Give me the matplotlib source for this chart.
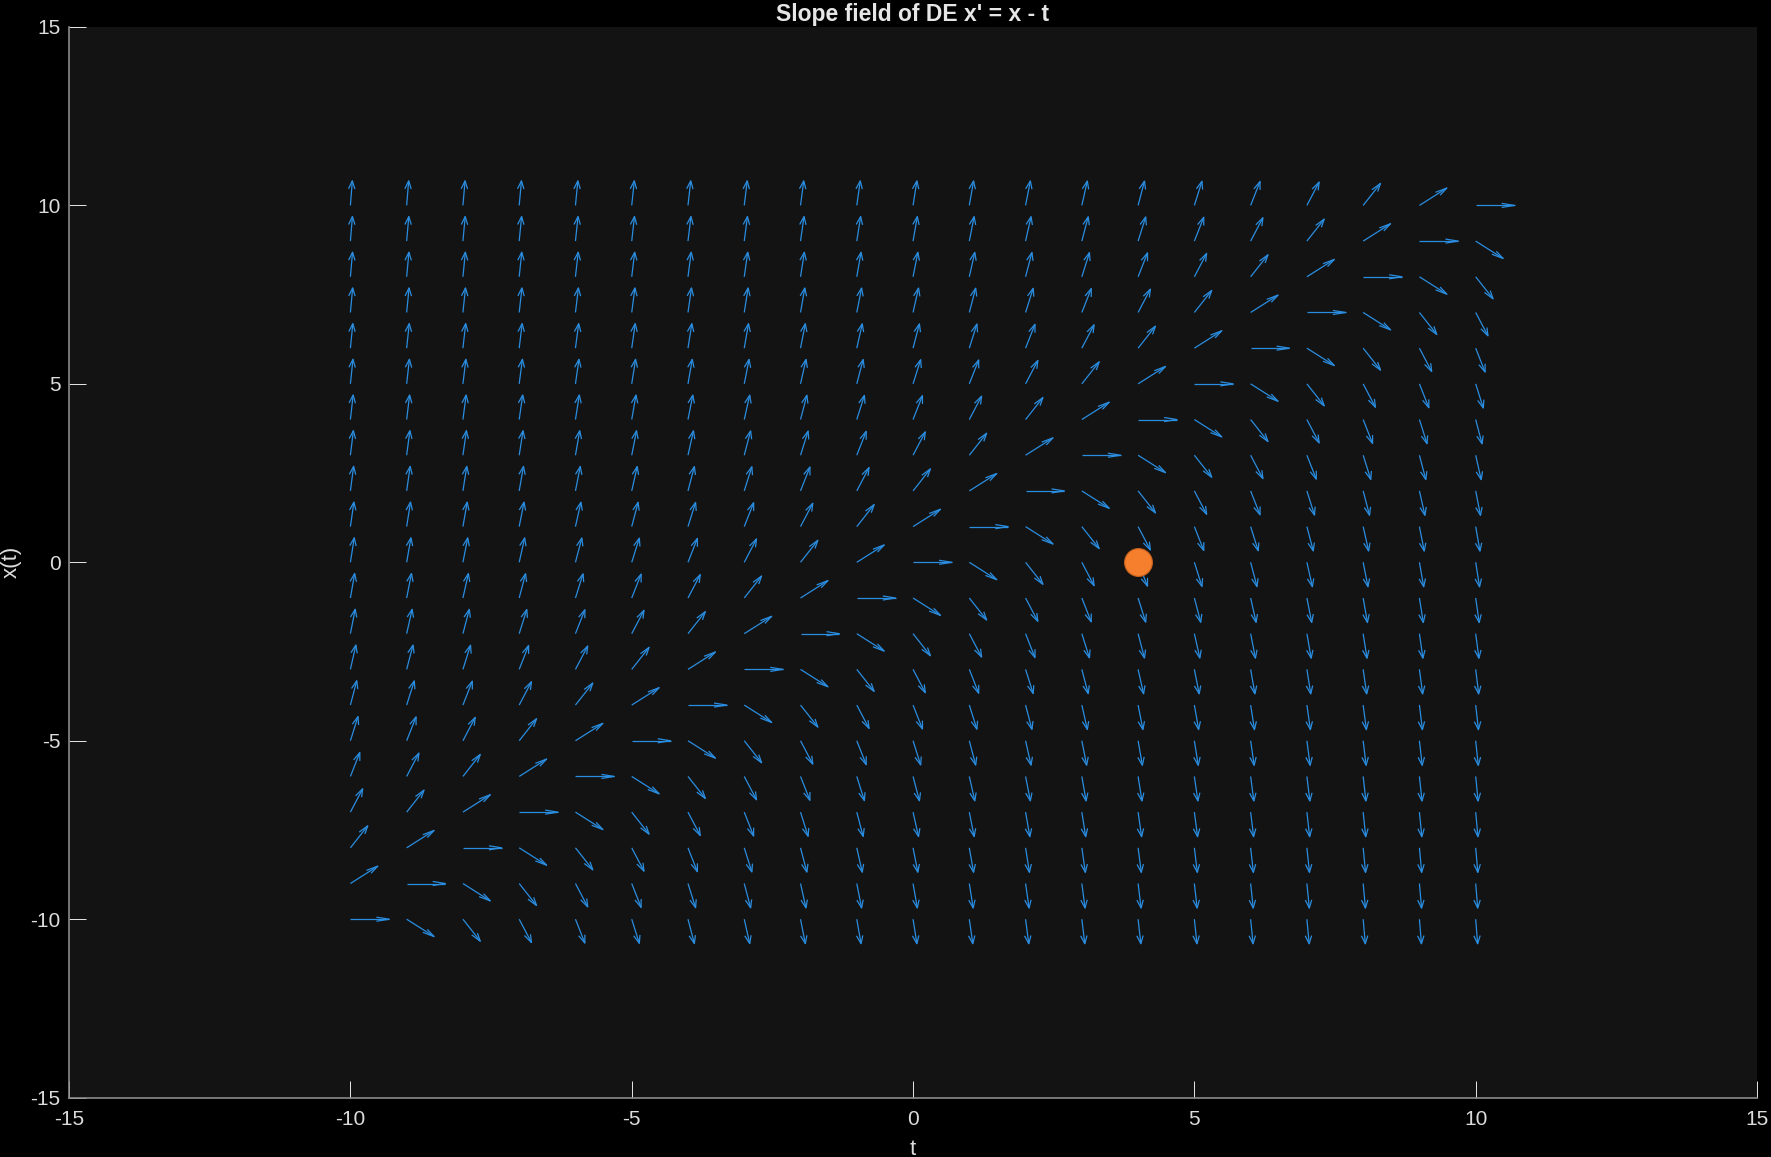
import numpy as np
import matplotlib
matplotlib.use("Agg")
import matplotlib.pyplot as plt
from matplotlib.collections import LineCollection

# grid of the slope field (t and x from -10 to 10, step 1)
t_vals = list(range(-10, 11))
x_vals = list(range(-10, 11))

# marked point
point_t = [4]
point_x = [0]

plt.rcParams['font.family'] = ['Liberation Sans', 'DejaVu Sans']
plt.rcParams['axes.unicode_minus'] = False

fig = plt.figure(figsize=(17.71, 11.57), dpi=100, facecolor='black')
ax = fig.add_axes([0.039, 0.0513, 0.9531, 0.9254])
ax.set_facecolor('#131313')

# slopes from the DE x' = x - t, normalized and scaled like the matlab quiver
T, X = np.meshgrid(t_vals, x_vals)
S = X - T
L = np.sqrt(1 + S ** 2)
scale = 0.69
U = scale / L
V = scale * S / L

# matlab-style open arrowheads drawn in data units
alpha, beta = 0.33, 0.25
segs = []
for t, x, u, v in zip(T.ravel(), X.ravel(), U.ravel(), V.ravel()):
    tip = (t + u, x + v)
    segs.append([(t, x), tip])
    h1 = (t + u - alpha * (u + beta * v), x + v - alpha * (v - beta * u))
    h2 = (t + u - alpha * (u - beta * v), x + v - alpha * (v + beta * u))
    segs.append([h1, tip, h2])
ax.add_collection(LineCollection(segs, colors='#2a8de0', linewidths=0.9, zorder=2))

ax.plot(point_t, point_x, 'o', ms=20, color='#f57f2c', mec='#c8621f', mew=0.8, zorder=3)

ax.set_xlim(-15, 15)
ax.set_ylim(-15, 15)
ax.set_xticks([-15, -10, -5, 0, 5, 10, 15])
ax.set_yticks([-15, -10, -5, 0, 5, 10, 15])

for side in ['top', 'right']:
    ax.spines[side].set_visible(False)
for side in ['left', 'bottom']:
    ax.spines[side].set_color('#8a8a8a')
    ax.spines[side].set_linewidth(1.2)

ax.tick_params(direction='in', length=12, width=0.7, color='#e8e8e8',
               labelcolor='#dcdcdc', labelsize=15)
ax.tick_params(axis='x', pad=9)
ax.tick_params(axis='y', pad=6)

ax.set_title("Slope field of DE x' = x - t", color='#e6e6e6', fontsize=16.5,
             fontweight='bold', pad=4)
ax.set_xlabel('t', color='#dcdcdc', fontsize=16)
ax.set_ylabel('x(t)', color='#dcdcdc', fontsize=16)
ax.xaxis.set_label_coords(0.5, -0.048)
ax.yaxis.set_label_coords(-0.034, 0.5)
ax.xaxis.label.set_va('center')
ax.yaxis.label.set_va('center')

fig.savefig('out.png', dpi=100, facecolor='black')
